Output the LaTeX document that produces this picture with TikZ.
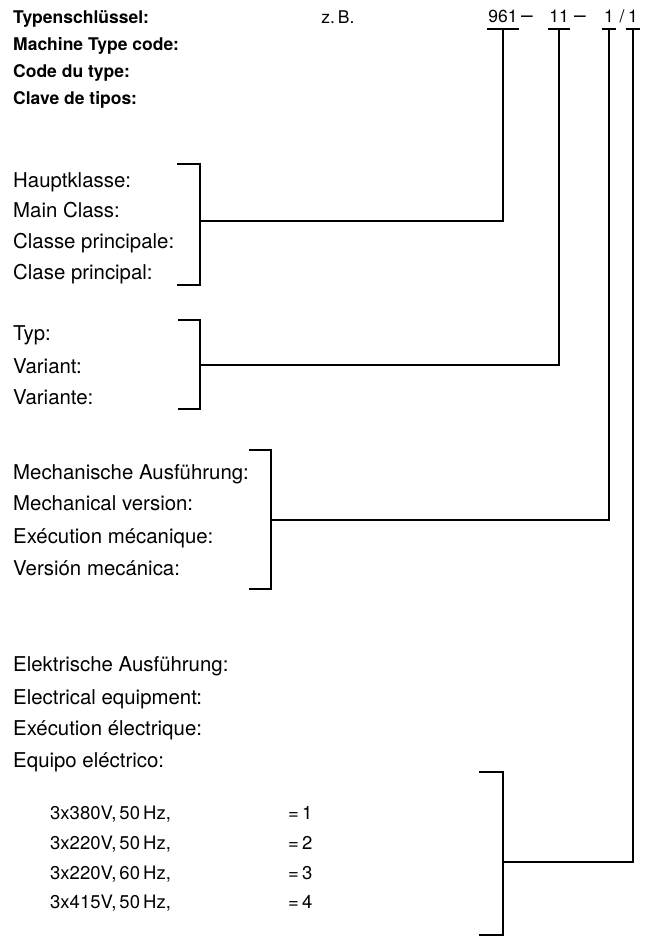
\documentclass[tikz,border=0pt]{standalone}
\usepackage{fontspec}
\setmainfont{TeX Gyre Heros}
\begin{document}
\begin{tikzpicture}[x=1pt,y=1pt,
    head/.style={anchor=base west,inner sep=0pt,font=\fontsize{17.5}{20}\selectfont\bfseries},
    lbl/.style={anchor=base west,inner sep=0pt,font=\fontsize{20.4}{24}\selectfont},
    volt/.style={anchor=base west,inner sep=0pt,font=\fontsize{18.5}{22}\selectfont},
    code/.style={anchor=base,inner xsep=1.5pt,inner ysep=6.5pt,font=\fontsize{17.5}{20}\selectfont},
    codesep/.style={anchor=base,inner sep=0pt,font=\fontsize{21}{24}\selectfont},
    brk/.style={line width=2pt},
    lead/.style={line width=1.8pt}]
    \useasboundingbox (0,0) rectangle (649,-938);

    \node[head] (h1) at (13,-23) {Typenschlüssel:};
    \node[head] (h2) at (13,-50) {Machine Type code:};
    \node[head] (h3) at (13,-77) {Code du type:};
    \node[head] (h4) at (13,-104) {Clave de tipos:};

    \node[code] (zb) at (338,-23) {z.\,B.};
    \node[code] (c961) at (503,-22) {961};
    \node[codesep] (d1) at (527,-22) {--};
    \node[code] (c11) at (559,-22) {11};
    \node[codesep] (d2) at (580,-22) {--};
    \node[code] (c1a) at (609,-22) {1};
    \node[code] (sl) at (622,-22) {/};
    \node[code] (c1b) at (633,-22) {1};
    \foreach \c in {c961,c11,c1a,c1b}
        \draw[lead] (\c.south west) -- (\c.south east);

    \node[lbl] (hk1) at (13,-187) {Hauptklasse:};
    \node[lbl] (hk2) at (13,-217) {Main Class:};
    \node[lbl] (hk3) at (13,-248) {Classe principale:};
    \node[lbl] (hk4) at (13,-279) {Clase principal:};
    \draw[brk] (177,-164) -- (200,-164) -- (200,-285) -- (177,-285);
    \coordinate (b1) at (200,-221);
    \draw[lead] (b1) -| (c961.south);

    \node[lbl] (ty1) at (13,-340) {Typ:};
    \node[lbl] (ty2) at (13,-373) {Variant:};
    \node[lbl] (ty3) at (13,-404) {Variante:};
    \draw[brk] (178,-320) -- (200,-320) -- (200,-409) -- (178,-409);
    \coordinate (b2) at (200,-365);
    \draw[lead] (b2) -| (c11.south);

    \node[lbl] (me1) at (13,-479) {Mechanische Ausführung:};
    \node[lbl] (me2) at (13,-510) {Mechanical version:};
    \node[lbl] (me3) at (13,-543) {Exécution mécanique:};
    \node[lbl] (me4) at (13,-575) {Versión mecánica:};
    \draw[brk] (249,-450) -- (271,-450) -- (271,-589) -- (249,-589);
    \coordinate (b3) at (271,-520);
    \draw[lead] (b3) -| (c1a.south);

    \node[lbl] (el1) at (13,-671) {Elektrische Ausführung:};
    \node[lbl] (el2) at (13,-704) {Electrical equipment:};
    \node[lbl] (el3) at (13,-735) {Exécution électrique:};
    \node[lbl] (el4) at (13,-767) {Equipo eléctrico:};

    \node[volt] (v1) at (50,-819) {3x380V,\,50\,Hz,};
    \node[volt] (v2) at (50,-849) {3x220V,\,50\,Hz,};
    \node[volt] (v3) at (50,-879) {3x220V,\,60\,Hz,};
    \node[volt] (v4) at (50,-908) {3x415V,\,50\,Hz,};
    \node[volt] (n1) at (288,-819) {=\,1};
    \node[volt] (n2) at (288,-849) {=\,2};
    \node[volt] (n3) at (288,-879) {=\,3};
    \node[volt] (n4) at (288,-908) {=\,4};
    \draw[brk] (479,-772) -- (503,-772) -- (503,-935) -- (479,-935);
    \coordinate (b4) at (503,-862);
    \draw[lead] (b4) -| (c1b.south);
\end{tikzpicture}
\end{document}
